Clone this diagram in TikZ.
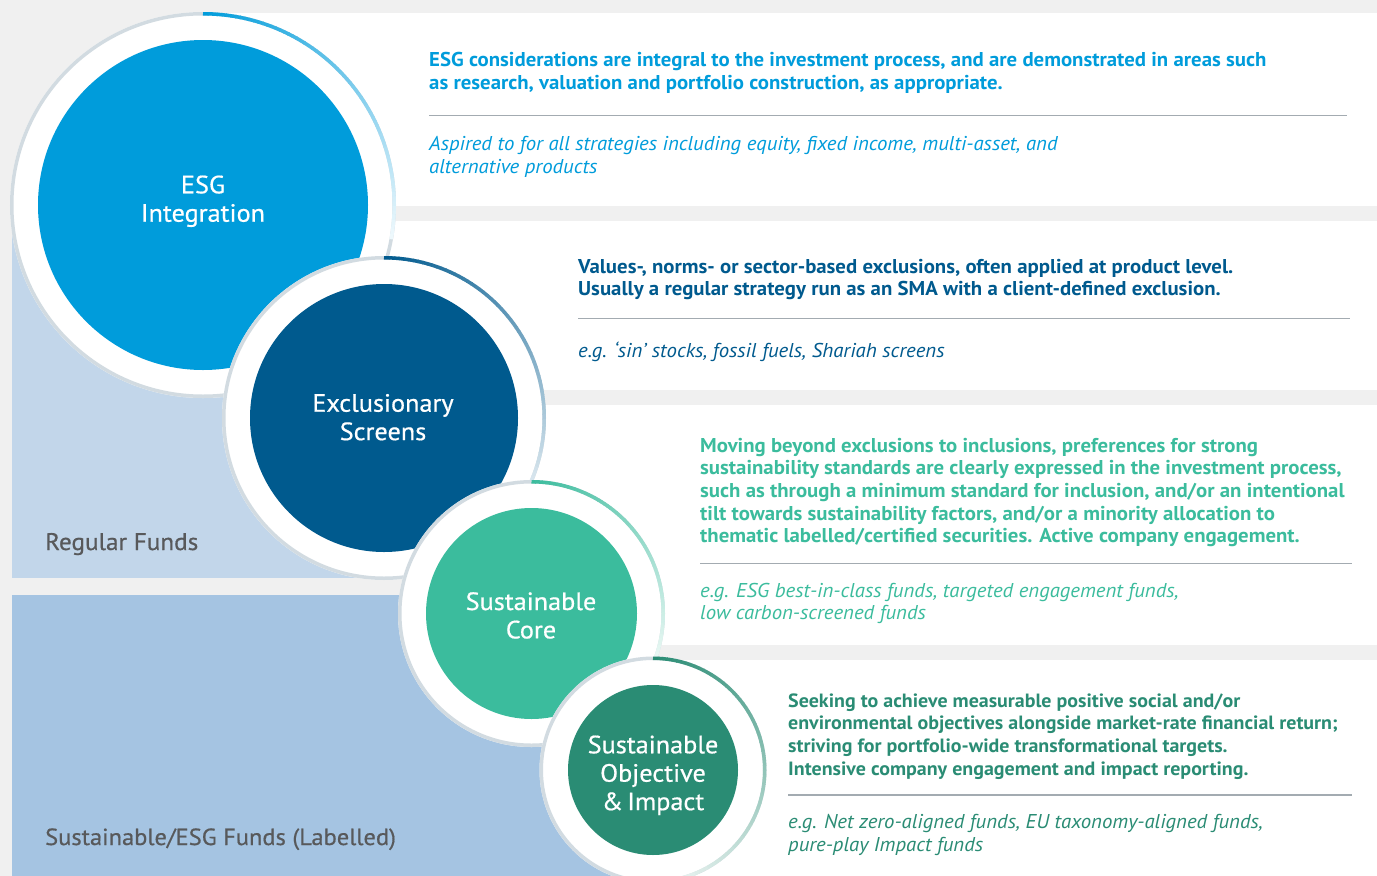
\documentclass[tikz,border=0pt]{standalone}
\usepackage{fontspec}
\setmainfont{PT Sans}[FakeStretch=1.04]
\newfontfamily\circfont{PT Sans}[FakeStretch=1.05, FakeBold=0.6]
\usetikzlibrary{calc}
\definecolor{bggray}{HTML}{F0F0F0}
\definecolor{esgblue}{HTML}{009CDB}
\definecolor{exblue}{HTML}{005A8E}
\definecolor{coreteal}{HTML}{3BBC9D}
\definecolor{impgreen}{HTML}{2A8C74}
\definecolor{regpanel}{HTML}{C2D6EA}
\definecolor{labpanel}{HTML}{A5C4E2}
\definecolor{ringgray}{HTML}{D2DBE1}
\definecolor{sepgray}{HTML}{A3ABB1}
\definecolor{labelgray}{HTML}{58595B}
\newcommand{\descsize}{\fontsize{20}{22.7}\selectfont}
\newcommand{\descsmall}{\fontsize{19.2}{22.7}\selectfont}
\newcommand{\circsize}{\fontsize{25}{28.4}\selectfont}
\newcommand{\ringnode}[7]{%
  \pgfmathsetmacro{\rmid}{#3-1.75}%
  \fill[white] (#1,-#2) circle[radius=#3];
  \draw[ringgray, line width=3.5pt] (#1,-#2) circle[radius=\rmid];
  \foreach \i in {0,...,71} {%
    \pgfmathsetmacro{\segA}{90-(90-(#6))*\i/72}%
    \pgfmathsetmacro{\segB}{90-(90-(#6))*(\i+1)/72-0.3}%
    \pgfmathtruncatemacro{\segP}{100-93*\i/71}%
    \draw[#5!\segP!white, line width=3.5pt] ([shift={(\segA:\rmid)}]#1,-#2) arc[start angle=\segA, end angle=\segB, radius=\rmid];
  }
  \node[circle, fill=#5, inner sep=0, minimum size=#4*2pt] (#7) at (#1,-#2) {};
}
\begin{document}
\begin{tikzpicture}[x=1pt,y=1pt,
  desc/.style={anchor=base west, inner sep=0, align=left, font=\descsize\bfseries},
  note/.style={anchor=base west, inner sep=0, align=left, font=\descsize\itshape},
  sepline/.style={draw=sepgray, line width=1.1pt},
  circtext/.style={anchor=base, inner sep=0, align=center, text=white, font=\circfont\circsize},
  panellabel/.style={anchor=base west, inner sep=0, text=labelgray, font=\circfont\fontsize{24}{28}\selectfont}]
\useasboundingbox (0,0) rectangle (1377,-876);
\fill[bggray] (0,0) rectangle (1377,-876);
% fund panels
\fill[regpanel] (12,-225) rectangle (400,-578);
\fill[labpanel] (12,-595) rectangle (620,-876);
% white description boxes
\fill[white] (200,-13) rectangle (1377,-206);
\fill[white] (300,-221) rectangle (1377,-390);
\fill[white] (450,-405) rectangle (1377,-645);
\fill[white] (620,-660) rectangle (1377,-876);
\node[panellabel] (reg) at (45,-550) {Regular Funds};
\node[panellabel, font=\circfont\fontsize{23.3}{28}\selectfont] (lab) at (45,-845) {Sustainable/ESG Funds (Labelled)};
% circles
\ringnode{203}{205}{193}{165}{esgblue}{-10}{esg}
\ringnode{384}{418}{162}{134}{exblue}{-35}{excl}
\ringnode{531.5}{613.5}{133.5}{105.5}{coreteal}{-25}{core}
\ringnode{653}{770}{113.5}{85}{impgreen}{-85}{imp}
% (multi-line nodes: base anchor = last line's baseline)
\node[circtext] (esgt) at (203,-221.7) {ESG\\Integration};
\node[circtext] (exclt) at (383,-440.1) {Exclusionary\\Screens};
\node[circtext] (coret) at (531,-638.4) {Sustainable\\Core};
\node[circtext] (impt) at (653,-810.1) {Sustainable\\Objective\\\&\,Impact};
% box 1
\node[desc, text=esgblue] (d1) at (429,-89.2) {ESG considerations are integral to the investment process, and are demonstrated in areas such\\as research, valuation and portfolio construction, as appropriate.};
\draw[sepline] (429,-115.5) -- (1347,-115.5);
\node[note, text=esgblue] (n1) at (429,-173.2) {Aspired to for all strategies including equity, fixed income, multi-asset, and\\alternative products};
% box 2
\node[desc, text=exblue] (d2) at (578,-295.7) {Values-, norms- or sector-based exclusions, often applied at product level.\\Usually a regular strategy run as an SMA with a client-defined exclusion.};
\draw[sepline] (578,-318.3) -- (1350,-318.3);
\node[note, text=exblue] (n2) at (578,-357) {e.g. ‘sin’ stocks, fossil fuels, Shariah screens};
% box 3
\node[desc, text=coreteal] (d3) at (700,-542.8) {Moving beyond exclusions to inclusions, preferences for strong\\sustainability standards are clearly expressed in the investment process,\\such as through a minimum standard for inclusion, and/or an intentional\\tilt towards sustainability factors, and/or a minority allocation to\\thematic labelled/certified securities. Active company engagement.};
\draw[sepline] (700,-563.3) -- (1352,-563.3);
\node[note, text=coreteal] (n3) at (700,-619.7) {e.g. ESG best-in-class funds, targeted engagement funds,\\low carbon-screened funds};
% box 4
\node[desc, text=impgreen, font=\descsmall\bfseries] (d4) at (788,-775.1) {Seeking to achieve measurable positive social and/or\\environmental objectives alongside market-rate financial return;\\striving for portfolio-wide transformational targets.\\Intensive company engagement and impact reporting.};
\draw[sepline] (788,-795) -- (1352,-795);
\node[note, text=impgreen] (n4) at (788,-851.2) {e.g. Net zero-aligned funds, EU taxonomy-aligned funds,\\pure-play Impact funds};
\end{tikzpicture}
\end{document}
